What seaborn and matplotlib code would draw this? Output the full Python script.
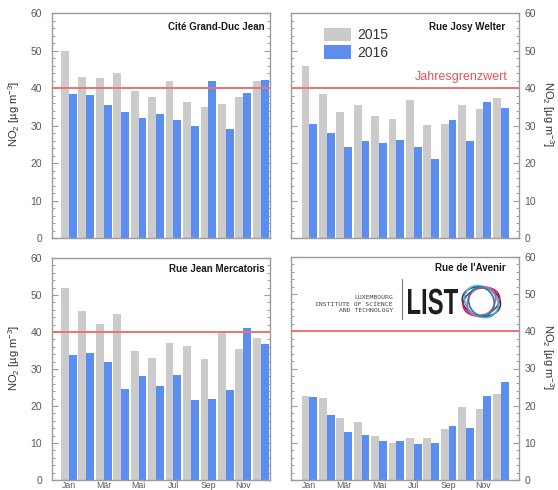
import matplotlib
matplotlib.use("Agg")
import matplotlib.pyplot as plt
from matplotlib.patches import Ellipse, Patch, PathPatch
from matplotlib.textpath import TextPath
from matplotlib.font_manager import FontProperties
from matplotlib.transforms import Affine2D
from matplotlib.ticker import MultipleLocator
import pandas as pd
import seaborn as sns

# Monthly mean NO2 concentrations at four Luxembourg measuring stations
months = ["Jan", "Feb", "Mär", "Apr", "Mai", "Jun", "Jul", "Aug", "Sep", "Okt", "Nov", "Dez"]
tick_months = ["Jan", "Mär", "Mai", "Jul", "Sep", "Nov"]
years = ["2015", "2016"]
stations = ["Cité Grand-Duc Jean", "Rue Josy Welter", "Rue Jean Mercatoris", "Rue de l'Avenir"]

cite_2015 = [49.9, 42.9, 42.8, 44.0, 39.1, 37.6, 41.8, 36.4, 35.0, 35.7, 37.6, 42.0]
cite_2016 = [38.4, 38.1, 35.4, 33.7, 31.9, 33.1, 31.5, 29.9, 41.9, 29.1, 38.7, 42.1]
welter_2015 = [46.0, 38.5, 33.5, 35.6, 32.5, 31.7, 36.8, 30.2, 30.3, 35.6, 34.5, 37.3]
welter_2016 = [30.3, 28.0, 24.4, 25.8, 25.3, 26.2, 24.3, 21.2, 31.5, 25.8, 36.3, 34.7]
mercatoris_2015 = [52.0, 45.8, 42.2, 44.9, 34.9, 32.9, 37.1, 36.1, 32.8, 40.0, 35.4, 38.5]
mercatoris_2016 = [33.8, 34.4, 31.8, 24.6, 28.0, 25.4, 28.4, 21.5, 22.0, 24.4, 41.0, 36.7]
avenir_2015 = [22.5, 22.0, 16.8, 15.6, 11.8, 10.0, 11.3, 11.2, 13.6, 19.6, 19.0, 23.2]
avenir_2016 = [22.2, 17.4, 12.8, 12.2, 10.4, 10.5, 9.8, 10.0, 14.6, 14.0, 22.6, 26.4]

limit_value = 40  # EU annual limit value for NO2
limit_label = "Jahresgrenzwert"

series = {
    stations[0]: (cite_2015, cite_2016),
    stations[1]: (welter_2015, welter_2016),
    stations[2]: (mercatoris_2015, mercatoris_2016),
    stations[3]: (avenir_2015, avenir_2016),
}

rows = []
for station, (v15, v16) in series.items():
    for year, vals in zip(years, (v15, v16)):
        for m, v in zip(months, vals):
            rows.append({"station": station, "month": m, "year": year, "no2": v})
df = pd.DataFrame(rows)

sns.set_style("white")
plt.rcParams["font.family"] = ["Liberation Sans", "DejaVu Sans"]
plt.rcParams["mathtext.default"] = "regular"

palette = {"2015": "#cbcbcb", "2016": "#5b8ef0"}
tick_grey = "#5a5a5a"
frame_grey = "#9c9c9c"
limit_red = "#ec7272"

W, H = 558, 490
fig = plt.figure(figsize=(W / 100, H / 100), dpi=100)


def rect(left, top, right, bottom):
    return [left / W, 1 - bottom / H, (right - left) / W, (bottom - top) / H]


layout = [
    dict(rect=rect(52, 13, 270, 238), xlim=(-0.96, 11.53), side="left", bottom=False, tx=0.977, ty=0.94),
    dict(rect=rect(291, 13, 519, 238), xlim=(-1.06, 12.05), side="right", bottom=False, tx=0.94, ty=0.94),
    dict(rect=rect(52, 258, 270, 480), xlim=(-0.96, 11.53), side="left", bottom=True, tx=0.977, ty=0.95),
    dict(rect=rect(291, 257, 519, 480), xlim=(-1.06, 12.05), side="right", bottom=True, tx=0.94, ty=0.95),
]

axes = []
for station, spec in zip(stations, layout):
    ax = fig.add_axes(spec["rect"])
    axes.append(ax)
    sub = df[df["station"] == station]
    sns.barplot(data=sub, x="month", y="no2", hue="year", order=months, hue_order=years,
                palette=palette, width=0.9, linewidth=0, saturation=1, errorbar=None,
                legend=False, ax=ax)
    ax.axhline(limit_value, color=limit_red, lw=1.4, zorder=5)
    ax.set_ylim(0, 60)
    ax.set_xlim(*spec["xlim"])
    ax.set_xlabel("")
    ax.set_ylabel("")

    ax.yaxis.set_major_locator(MultipleLocator(10))
    ax.yaxis.set_minor_locator(MultipleLocator(2))
    left = spec["side"] == "left"
    ax.tick_params(axis="y", which="both", direction="in", left=True, right=True,
                   labelleft=left, labelright=not left, colors=frame_grey,
                   labelcolor=tick_grey, labelsize=7.5)
    ax.tick_params(axis="y", which="major", length=4.5, width=0.8, pad=7 if left else 4)
    ax.tick_params(axis="y", which="minor", length=2.5, width=0.7)

    ax.set_xticks(range(0, 12, 2))
    if spec["bottom"]:
        ax.set_xticklabels(tick_months)
    else:
        ax.set_xticklabels([])
    ax.tick_params(axis="x", length=0, pad=1, labelsize=6.3, labelcolor=tick_grey)

    for sp in ax.spines.values():
        sp.set_color(frame_grey)
        sp.set_linewidth(1.0)

    ax.text(spec["tx"], spec["ty"], station, transform=ax.transAxes, ha="right", va="center",
            fontsize=7, fontweight="bold", color="#1a1a1a")

    ylab = "NO$_2$ [µg m$^{-3}$]"
    if left:
        ax.set_ylabel(ylab, fontsize=8, color="#333333")
        ax.yaxis.set_label_coords(-0.137, 0.55)
    else:
        ax.yaxis.set_label_position("right")
        ax.set_ylabel(ylab, fontsize=8, color="#333333", rotation=270, va="center")
        ax.yaxis.set_label_coords(1.125, 0.55)

# Legend and limit label in the upper right panel
ax_tr = axes[1]
handles = [Patch(facecolor=palette[y], edgecolor="none") for y in years]
ax_tr.legend(handles, years, loc="upper left", bbox_to_anchor=(0.143, 0.935), frameon=False,
             fontsize=10, handlelength=2.0, handleheight=1.1, handletextpad=0.45,
             labelspacing=0.25, borderpad=0, borderaxespad=0, labelcolor="#333333")
ax_tr.text(0.952, 0.716, limit_label, transform=ax_tr.transAxes, ha="right", va="center",
           fontsize=9, color="#e8505b")

# Institute logo in the lower right panel
ax_br = axes[3]
for i, line in enumerate(["LUXEMBOURG", "INSTITUTE OF SCIENCE", "AND TECHNOLOGY"]):
    ax_br.text(0.447, 0.817 - i * 0.029, line, transform=ax_br.transAxes, ha="right", va="center",
               fontsize=4.6, family="DejaVu Sans Mono", color="#444444")
ax_br.plot([0.487, 0.487], [0.72, 0.90], transform=ax_br.transAxes, color="#777777", lw=0.8)

# Condensed "LIST" wordmark, drawn as a horizontally squeezed text path (pixel units)
list_path = TextPath((0, 0), "LIST", size=1, prop=FontProperties(family="Liberation Sans", weight="bold"))
ext = list_path.get_extents()
sx = 50 / ext.width
sy = 26 / 0.716
fig.add_artist(PathPatch(list_path, facecolor="#1e1e1e", edgecolor="none",
                         transform=Affine2D().translate(-ext.x0, 0).scale(sx, sy).translate(408, H - 314)))

rings = [
    (-15, 0.17, 0.13, "#2b3a67"),
    (20, 0.165, 0.12, "#c2185b"),
    (-40, 0.16, 0.13, "#3fb6d3"),
    (55, 0.14, 0.115, "#e05a9a"),
    (-70, 0.13, 0.11, "#1f7fa8"),
]
for ang, w, h, c in rings:
    ax_br.add_patch(Ellipse((0.835, 0.80), w, h, angle=ang, transform=ax_br.transAxes,
                            fill=False, edgecolor=c, lw=1.2))

fig.savefig("out.png", dpi=100)
